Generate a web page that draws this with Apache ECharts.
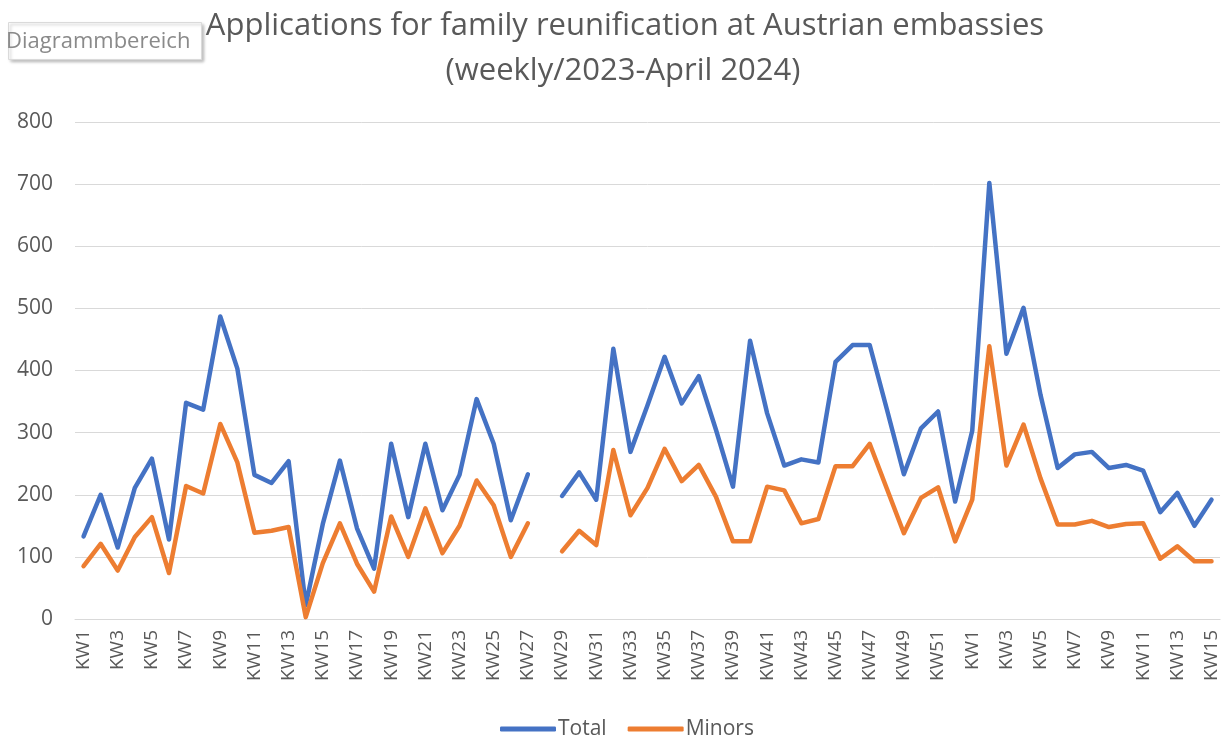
<!DOCTYPE html>
<html>
<head>
<meta charset="utf-8">
<script src="https://cdn.jsdelivr.net/npm/echarts@6/dist/echarts.min.js"></script>
<style>
html,body{margin:0;padding:0;background:#fff;}
#chart{width:1221px;height:740px;}
</style>
</head>
<body>
<div id="chart"></div>
<script>
// Categories: calendar weeks 2023 (KW1-KW52) and 2024 (KW1-KW15)
const weeks2023 = ['KW1','KW2','KW3','KW4','KW5','KW6','KW7','KW8','KW9','KW10','KW11','KW12','KW13','KW14','KW15','KW16','KW17','KW18','KW19','KW20','KW21','KW22','KW23','KW24','KW25','KW26','KW27','KW28','KW29','KW30','KW31','KW32','KW33','KW34','KW35','KW36','KW37','KW38','KW39','KW40','KW41','KW42','KW43','KW44','KW45','KW46','KW47','KW48','KW49','KW50','KW51','KW52'];
const weeks2024 = ['KW1','KW2','KW3','KW4','KW5','KW6','KW7','KW8','KW9','KW10','KW11','KW12','KW13','KW14','KW15'];

const total2023 = [133,200,115,211,258,128,348,337,487,403,232,219,254,22,153,255,146,81,282,164,282,175,232,354,282,159,233,null,198,236,192,435,269,344,422,347,391,305,213,448,331,247,257,252,414,441,441,338,233,307,334,189];
const total2024 = [303,702,427,501,360,243,265,269,243,248,239,172,203,150,192];

const minors2023 = [85,121,78,132,164,74,214,202,314,252,139,142,148,3,90,154,89,44,165,100,178,106,150,223,183,100,154,null,109,142,119,272,167,211,274,222,248,197,125,125,213,207,154,161,246,246,282,210,138,195,212,125];
const minors2024 = [192,439,247,313,226,152,152,158,148,153,154,97,117,93,93];

const yTicks = [0,100,200,300,400,500,600,700,800];

const titleLines = ['Applications for family reunification at Austrian embassies','(weekly/2023-April 2024)'];
const seriesNames = ['Total','Minors'];

const categories = weeks2023.concat(weeks2024);
const totalData = total2023.concat(total2024);
const minorsData = minors2023.concat(minors2024);

const textColor = '#595959';
const fontFam = '"Open Sans", "Noto Sans", sans-serif';

const chart = echarts.init(document.getElementById('chart'), null, {renderer:'canvas'});
chart.setOption({
  animation: false,
  backgroundColor: '#ffffff',
  graphic: [
    {type:'text', style:{text:titleLines[0], fill:textColor, font:'31px ' + fontFam, textAlign:'center', textVerticalAlign:'middle', x:625, y:26}},
    {type:'text', style:{text:titleLines[1], fill:textColor, font:'31px ' + fontFam, textAlign:'center', textVerticalAlign:'middle', x:623, y:71}},
    {type:'rect', shape:{x:8.5, y:22.5, width:193, height:37}, style:{fill:'#ffffff', stroke:'#dadada', lineWidth:1, shadowBlur:3, shadowColor:'rgba(0,0,0,0.25)', shadowOffsetX:2, shadowOffsetY:2}, z:10},
    {type:'text', style:{text:'Diagrammbereich', fill:'#8a8a8a', font:'22px ' + fontFam, x:6, y:42, textVerticalAlign:'middle'}, z:11}
  ],
  legend: {
    data: seriesNames,
    top: 717,
    left: 500,
    itemWidth: 56,
    itemHeight: 5,
    itemGap: 21,
    icon: 'roundRect',
    textStyle: {color: textColor, fontSize: 21, fontFamily: fontFam, lineHeight: 24, padding:[0,0,0,-3]},
    padding: 0
  },
  grid: {left: 75, right: 0, top: 122, bottom: 121, containLabel: false},
  xAxis: {
    type: 'category',
    data: categories,
    boundaryGap: true,
    axisLine: {show: true, lineStyle: {color: '#d9d9d9', width: 1}},
    axisTick: {show: false},
    axisLabel: {interval: 1, rotate: 90, color: textColor, fontSize: 19, fontFamily: fontFam, margin: 11},
    splitLine: {show: false}
  },
  yAxis: {
    type: 'value',
    min: yTicks[0],
    max: yTicks[yTicks.length - 1],
    interval: 100,
    axisLine: {show: false},
    axisTick: {show: false},
    axisLabel: {color: textColor, fontSize: 21, fontFamily: fontFam, margin: 22},
    splitLine: {lineStyle: {color: '#d9d9d9', width: 1}}
  },
  series: [
    {name: seriesNames[0], type: 'line', data: totalData, symbol: 'none', connectNulls: false,
     lineStyle: {color: '#4472C4', width: 4.5, join:'round', cap:'round'}, itemStyle: {color: '#4472C4'}},
    {name: seriesNames[1], type: 'line', data: minorsData, symbol: 'none', connectNulls: false,
     lineStyle: {color: '#ED7D31', width: 4.5, join:'round', cap:'round'}, itemStyle: {color: '#ED7D31'}}
  ]
});
</script>
</body>
</html>
